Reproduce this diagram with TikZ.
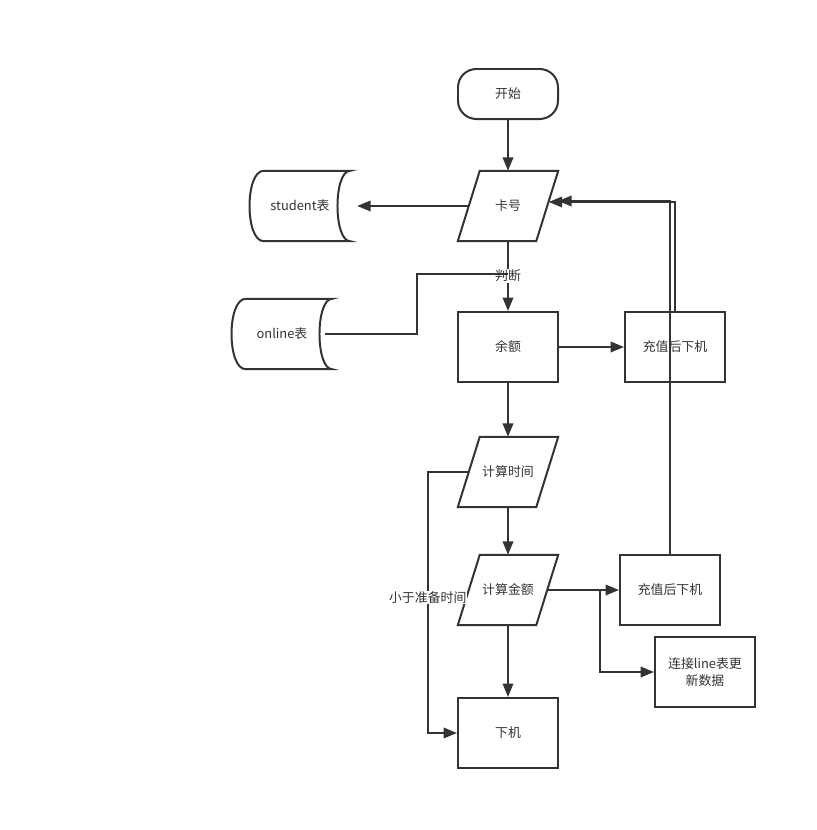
\documentclass[tikz,border=0pt]{standalone}
\usepackage{fontspec}
\setmainfont{Noto Sans CJK SC}
\usepackage{tikz}
\usetikzlibrary{arrows.meta, calc}

\begin{document}
\begin{tikzpicture}[
    x=0.03cm, y=-0.03cm,
    every node/.style={font=\fontsize{11}{14.5}\selectfont, text=black!80},
    line/.style={draw=black!80, line width=1.7pt},
    arrow/.style={line, -{Triangle[length=11.5pt, width=9pt]}},
    box/.style={rectangle, line, align=center, minimum width=3cm, minimum height=2.1cm},
    io/.style={rectangle, minimum width=3cm, minimum height=2.1cm},
    term/.style={rectangle, rounded corners=0.55cm, line, minimum width=3cm, minimum height=1.5cm},
    tbl/.style={rectangle, minimum width=3cm, minimum height=2.1cm}
  ]
  \useasboundingbox (0,0) rectangle (817,830);

  \node[term] (ks) at (508,94) {开始};
  \node[io] (kh) at (508,206) {卡号};
  \node[tbl] (stu) at (300,206) {student表};
  \node[tbl] (onl) at (282,334) {online表};
  \node[box] (ye) at (508,347) {余额};
  \node[box] (cz1) at (675,347) {充值后下机};
  \node[io] (jsj) at (508,472) {计算时间};
  \node[io] (jse) at (508,590) {计算金额};
  \node[box] (cz2) at (670,590) {充值后下机};
  \node[box] (lx) at (705,672) {连接line表更\\新数据};
  \node[box] (xj) at (508,733) {下机};
  \coordinate (pd) at (508,274);
  \coordinate (fz) at (600,590);

  % stored data outlines
  \foreach \t in {stu, onl}
    \draw[line] ($(\t.north west)+(14,0)$) -- (\t.north east)
      .. controls +(-17,0) and +(-17,0) .. (\t.south east)
      -- ($(\t.south west)+(14,0)$)
      .. controls +(-19,0) and +(-19,0) .. cycle;
  % parallelogram outlines
  \foreach \t in {kh, jsj, jse}
    \draw[line] ($(\t.north west)+(22,0)$) -- (\t.north east)
      -- ($(\t.south east)+(-22,0)$) -- (\t.south west) -- cycle;

  \draw[arrow] (ks) -- (kh);
  \draw[arrow, shorten >=0.21cm] ($(kh.west)+(11,0)$) -- (stu);
  \draw[arrow] (kh) -- (ye) node[midway, fill=white, inner sep=1pt] {判断};
  \draw[line] ($(onl.east)+(-7,0)$) -- ++(92,0) |- (pd);
  \draw[arrow] (ye) -- (cz1);
  \draw[arrow] (cz1.north) |- ($(kh.east)+(-9.5,-4)$);
  \draw[arrow] (cz2.north) |- ($(kh.east)+(0,-5)$);
  \draw[arrow] (ye) -- (jsj);
  \draw[arrow] (jsj) -- (jse);
  \draw[arrow] (jse) -- (xj);
  \draw[arrow] ($(jsj.west)+(11,0)$) -- ++(-41,0) |- (xj)
    node[pos=0.24, fill=white, inner sep=0.5pt] {小于准备时间};
  \draw[arrow] ($(jse.east)+(-11,0)$) -- (cz2);
  \draw[arrow] (fz) |- (lx);

\end{tikzpicture}
\end{document}
